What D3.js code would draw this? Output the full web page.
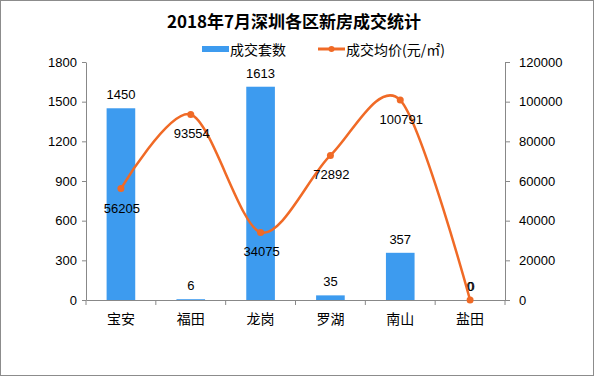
<!DOCTYPE html>
<html><head><meta charset="utf-8">
<script src="https://cdn.jsdelivr.net/npm/d3@7"></script>
<style>body{margin:0;background:#fff}svg{display:block}</style>
</head><body>
<svg id="c" width="594" height="376"></svg>
<script>
const categories = ["宝安","福田","龙岗","罗湖","南山","盐田"];
const deals = [1450, 6, 1613, 35, 357, 0];
const prices = [56205, 93554, 34075, 72892, 100791, 0];
const leftTicks = [0,300,600,900,1200,1500,1800];
const rightTicks = [0,20000,40000,60000,80000,100000,120000];
const title = "2018年7月深圳各区新房成交统计";
const seriesNames = ["成交套数","成交均价(元/㎡)"];

const blue = "#3d9bef", orange = "#f06a26";
const svg = d3.select("#c");
const W = 594, H = 376;
const m = {l:86, r:89, t:62, b:76};
const x = d3.scaleBand().domain(categories).range([m.l, W - m.r]).paddingInner(0.59).paddingOuter(0.295);
const xb = d3.scaleBand().domain(categories).range([m.l, W - m.r]);
const yL = d3.scaleLinear().domain([0,1800]).range([H - m.b, m.t]);
const yR = d3.scaleLinear().domain([0,120000]).range([H - m.b, m.t]);
const numFont = "'Liberation Sans', Arial, sans-serif";
const cjk = "'Noto Sans CJK SC', sans-serif";

svg.append("rect").attr("x",0.5).attr("y",0.5).attr("width",W-1).attr("height",H-1)
  .attr("fill","#fff").attr("stroke","#8c8c8c");

svg.append("text").attr("x",294).attr("y",28).attr("text-anchor","middle")
  .attr("font-family",cjk).attr("font-weight","bold").attr("font-size",17).text(title);

// legend
const lg = svg.append("g");
lg.append("rect").attr("x",202).attr("y",46).attr("width",27).attr("height",6).attr("fill",blue);
lg.append("text").attr("x",230).attr("y",55).attr("font-family",cjk).attr("font-size",14).text(seriesNames[0]);
lg.append("line").attr("x1",318).attr("x2",345).attr("y1",49).attr("y2",49).attr("stroke",orange).attr("stroke-width",3);
lg.append("circle").attr("cx",331.5).attr("cy",49).attr("r",3).attr("fill",orange);
lg.append("text").attr("x",346).attr("y",55).attr("font-family",cjk).attr("font-size",14).text(seriesNames[1]);

// axes
const axisColor = "#888";
const gL = svg.append("g").attr("transform",`translate(${m.l},0)`)
  .call(d3.axisLeft(yL).tickValues(leftTicks).tickFormat(d3.format("d")).tickSize(4).tickPadding(5).tickSizeOuter(0));
const gR = svg.append("g").attr("transform",`translate(${W-m.r},0)`)
  .call(d3.axisRight(yR).tickValues(rightTicks).tickFormat(d3.format("d")).tickSize(5).tickPadding(9).tickSizeOuter(0));
const gX = svg.append("g").attr("transform",`translate(0,${H-m.b})`)
  .call(d3.axisBottom(xb).tickSize(0).tickPadding(14).tickSizeOuter(0));
[gL,gR,gX].forEach(g=>{
  g.selectAll("path").attr("stroke",axisColor);
  g.selectAll("line").attr("stroke",axisColor);
  g.selectAll("text").attr("fill","#000").attr("font-size",13).attr("font-family",numFont);
});
gX.selectAll("text").attr("font-family",cjk).attr("font-size",14);
// category boundary ticks
const bounds = categories.map(c=>xb(c)).concat([xb(categories[categories.length-1])+xb.bandwidth()]);
gX.selectAll(".bt").data(bounds).enter().append("line")
  .attr("x1",d=>d).attr("x2",d=>d).attr("y1",0).attr("y2",5).attr("stroke",axisColor);

// bars
svg.append("g").selectAll("rect").data(deals).enter().append("rect")
  .attr("x",(d,i)=>x(categories[i])).attr("width",x.bandwidth())
  .attr("y",d=>yL(d)).attr("height",d=>yL(0)-yL(d)).attr("fill",blue);
svg.append("g").selectAll("text").data(deals).enter().append("text")
  .attr("x",(d,i)=>x(categories[i])+x.bandwidth()/2).attr("y",d=>yL(d)-9)
  .attr("text-anchor","middle").attr("font-family",numFont).attr("font-size",13).text(d=>d);

// line
const pts = prices.map((p,i)=>[xb(categories[i])+xb.bandwidth()/2, yR(p)]);
svg.append("path").attr("d",d3.line().curve(d3.curveCardinal.tension(0.1))(pts))
  .attr("fill","none").attr("stroke",orange).attr("stroke-width",2.5);
svg.append("g").selectAll("circle").data(pts).enter().append("circle")
  .attr("cx",d=>d[0]).attr("cy",d=>d[1]).attr("r",3.5).attr("fill",orange);
svg.append("g").selectAll("text").data(prices).enter().append("text")
  .attr("x",(d,i)=>pts[i][0]+1).attr("y",(d,i)=> d===0 ? pts[i][1]-9 : pts[i][1]+24)
  .attr("text-anchor","middle").attr("font-family",numFont).attr("font-size",13).text(d=>d);
</script>
</body></html>
